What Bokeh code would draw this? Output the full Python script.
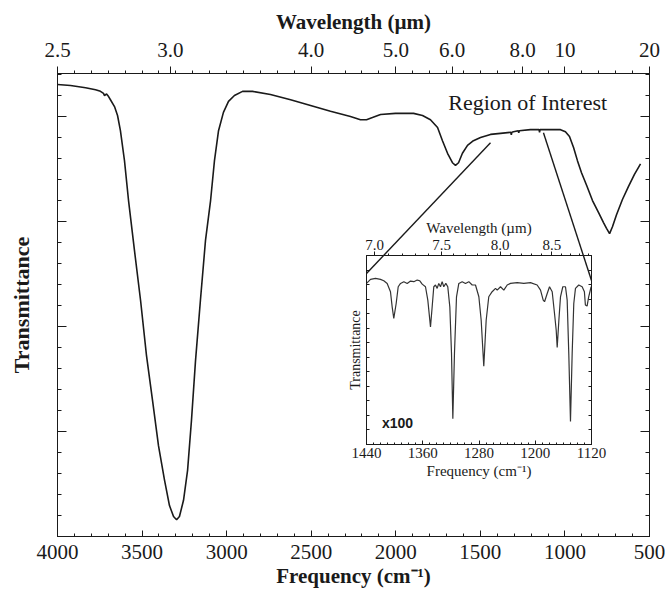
from bokeh.plotting import figure
from bokeh.models import (Range1d, LinearAxis, FixedTicker, CustomJSTickFormatter,
                          Label, ColumnDataSource)
from bokeh.layouts import column
from bokeh.embed import file_html
from bokeh.resources import INLINE

# ---------------- data ----------------
# full IR spectrum: frequency (cm^-1) and transmittance (arbitrary units)
freq_main = [4000, 3923, 3834, 3775, 3746, 3728, 3722, 3710, 3698, 3687, 3663, 3645,
             3628, 3604, 3580, 3545, 3509, 3474, 3438, 3403, 3367, 3338, 3314, 3296,
             3279, 3255, 3231, 3208, 3184, 3155, 3125, 3095, 3072, 3048, 3019, 2989,
             2954, 2906, 2847, 2741, 2622, 2504, 2386, 2268, 2209, 2173, 2138, 2090,
             2002, 1895, 1842, 1795, 1753, 1724, 1694, 1665, 1647, 1629, 1606, 1576,
             1541, 1499, 1440, 1381, 1320, 1317, 1314, 1304, 1276, 1273, 1270, 1204,
             1153, 1150, 1147, 1103, 1026, 997, 973, 949, 926, 902, 872, 837, 801,
             772, 754, 736, 719, 695, 660, 624, 589, 553]
trans_main = [86.1, 85.9, 85.5, 85.1, 84.8, 84.4, 84.0, 84.3, 83.8, 83.2, 81.9, 80.2,
              77.3, 71.6, 64.0, 54.5, 45.0, 34.5, 25.9, 17.3, 10.7, 5.9, 3.8, 3.2,
              3.8, 6.9, 12.6, 22.1, 33.5, 45.0, 56.4, 64.0, 71.6, 77.3, 80.8, 82.9,
              84.0, 84.8, 84.8, 84.2, 83.2, 82.1, 81.0, 80.0, 79.4, 79.4, 79.8, 80.4,
              80.6, 80.6, 80.2, 79.4, 77.9, 75.4, 73.0, 71.2, 70.7, 71.2, 73.0, 74.5,
              75.4, 76.0, 76.6, 76.8, 77.0, 76.5, 77.0, 77.1, 77.3, 76.9, 77.3, 77.5,
              77.5, 77.0, 77.5, 77.5, 77.5, 77.1, 76.2, 74.1, 71.6, 69.3, 66.9, 64.0,
              61.7, 59.8, 58.7, 57.7, 59.0, 61.3, 64.2, 66.7, 69.0, 71.0]

# region of interest, expanded x100
freq_roi = [1440.0, 1434.3, 1427.2, 1420.1, 1415.4, 1410.6, 1405.9, 1403.5, 1401.2, 1397.8,
            1394.9, 1391.6, 1386.9, 1382.1, 1377.4, 1372.7, 1367.9, 1364.2, 1360.8, 1356.1,
            1352.8, 1349.0, 1346.6, 1344.3, 1341.9, 1339.5, 1337.2, 1334.8, 1332.4, 1330.1,
            1327.2, 1324.4, 1321.5, 1319.1, 1317.2, 1314.9, 1312.0, 1308.7, 1303.9, 1299.2,
            1294.5, 1289.7, 1285.0, 1280.2, 1276.9, 1273.2, 1269.8, 1266.1, 1261.3, 1256.5,
            1254.1, 1249.4, 1244.7, 1239.9, 1235.2, 1225.7, 1216.2, 1206.8, 1197.3, 1192.5,
            1188.7, 1186.8, 1183.0, 1179.7, 1175.9, 1172.6, 1170.2, 1168.8, 1166.4, 1164.1,
            1160.8, 1157.0, 1154.6, 1152.3, 1149.9, 1147.5, 1145.2, 1142.8, 1138.1, 1133.3,
            1130.1, 1128.7, 1126.3, 1124.0, 1120.5]
trans_roi = [11.08, 11.36, 11.43, 11.36, 11.26, 11.08, 10.51, 9.47, 8.67, 9.70,
             10.85, 11.08, 11.20, 11.08, 11.24, 11.20, 11.31, 11.26, 11.03, 10.85,
             9.93, 8.09, 9.47, 10.85, 10.97, 10.74, 11.08, 10.85, 11.20, 10.85,
             11.08, 10.85, 9.47, 6.25, 1.77, 6.25, 10.16, 11.08, 11.20, 11.08,
             11.20, 10.97, 10.97, 10.16, 8.55, 5.38, 8.55, 10.16, 10.51, 10.74,
             10.62, 10.85, 10.62, 10.97, 11.08, 11.13, 11.08, 11.13, 10.97, 10.62,
             9.93, 9.82, 10.39, 10.85, 10.51, 9.01, 7.86, 6.67, 8.55, 10.16,
             10.85, 10.85, 9.93, 6.25, 1.59, 6.25, 9.70, 10.74, 10.97, 10.85,
             10.51, 9.59, 9.52, 10.16, 10.85]

freq_ticks = [4000, 3500, 3000, 2500, 2000, 1500, 1000, 500]
wavelength_ticks = [2.5, 3.0, 4.0, 5.0, 6.0, 8.0, 10, 20]
roi_freq_ticks = [1440, 1360, 1280, 1200, 1120]
roi_wavelength_ticks = [7.0, 7.5, 8.0, 8.5]
roi_wavelength_minor = [7.0, 7.1, 7.2, 7.3, 7.4, 7.5, 7.6, 7.7, 7.8, 7.9,
                        8.0, 8.1, 8.2, 8.3, 8.4, 8.5, 8.6, 8.7, 8.8, 8.9]

# leader lines: main-spectrum anchors and inset anchors (frequency, transmittance)
lead_main_freq = [1440, 1127]
lead_main_trans = [75.0, 76.9]
lead_inset_freq = [1440, 1120]
lead_inset_trans = [11.76, 11.28]

SERIF = "Liberation Serif"
INK = "#1a1a1a"

# ---------------- geometry ----------------
W, H = 665, 593
ML, MR, MT, MB = 57, 16, 73, 57
X0, X1 = 4000, 500
Y0, Y1 = 0, 88.2
# inset frame position; the column keeps left/right borders equal to the main plot's
IFX, IFY = 366, 255
IFW, IFH = 225, 189
IBT, IBB = 45, 40
IL, IT = IFX - ML, IFY - IBT
IY1 = 13.0


def wl_formatter():
    return CustomJSTickFormatter(code="""
        const w = 1e4 / tick;
        return w >= 9.99 ? w.toFixed(0) : w.toFixed(1);
    """)


def blank_formatter():
    return CustomJSTickFormatter(code="return '';")


def style_axis(ax, size, bold_title, title_size):
    ax.major_label_text_font = SERIF
    ax.major_label_text_font_size = size
    ax.major_label_text_color = INK
    ax.axis_label_text_font = SERIF
    ax.axis_label_text_font_size = title_size
    ax.axis_label_text_font_style = "bold" if bold_title else "normal"
    ax.axis_label_text_color = INK
    ax.axis_line_color = INK
    ax.major_tick_line_color = INK
    ax.minor_tick_line_color = INK


# ---------------- main plot ----------------
p = figure(width=W, height=H, x_range=Range1d(X0, X1), y_range=Range1d(Y0, Y1),
           x_axis_type=None, y_axis_type=None, output_backend="svg",
           toolbar_location=None, min_border_left=ML, min_border_right=MR,
           min_border_top=MT, min_border_bottom=MB)
p.outline_line_color = INK
p.grid.visible = False
p.background_fill_color = "white"
p.border_fill_color = "white"

bottom = LinearAxis(ticker=FixedTicker(ticks=freq_ticks, minor_ticks=list(range(500, 4001, 100))),
                    axis_label="Frequency (cm\u207b\u00b9)")
style_axis(bottom, "21px", True, "21px")
bottom.major_tick_in, bottom.major_tick_out = 6, 0
bottom.minor_tick_in, bottom.minor_tick_out = 3, 0
bottom.major_label_standoff = 8
bottom.axis_label_standoff = 2
p.add_layout(bottom, "below")

top = LinearAxis(ticker=FixedTicker(ticks=[1e4 / w for w in wavelength_ticks],
                                    minor_ticks=list(range(500, 4001, 100))),
                 formatter=wl_formatter(), axis_label="Wavelength (\u00b5m)")
style_axis(top, "21px", True, "21px")
top.major_tick_in, top.major_tick_out = 0, 7
top.minor_tick_in, top.minor_tick_out = 0, 3
top.major_label_standoff = 10
top.axis_label_standoff = 6
p.add_layout(top, "above")

ticks_t = FixedTicker(ticks=[0, 20, 40, 60, 80], minor_ticks=list(range(0, 89, 4)))
left = LinearAxis(ticker=ticks_t, formatter=blank_formatter(), axis_label="Transmittance")
style_axis(left, "10px", True, "22px")
left.major_tick_in, left.major_tick_out = 9, 0
left.minor_tick_in, left.minor_tick_out = 4, 0
left.major_label_standoff = 0
left.axis_label_standoff = 24
p.add_layout(left, "left")

right = LinearAxis(ticker=ticks_t, formatter=blank_formatter())
style_axis(right, "10px", False, "10px")
right.major_tick_in, right.major_tick_out = 9, 0
right.minor_tick_in, right.minor_tick_out = 4, 0
right.major_label_standoff = 0
p.add_layout(right, "right")

p.line(freq_main, trans_main, line_color=INK, line_width=1.6)

p.add_layout(Label(x=1220, y=82.7, text="Region of Interest", text_font=SERIF,
                   text_font_size="22px", text_color=INK, text_align="center",
                   text_baseline="middle"))


# leader lines from the main spectrum to the inset frame
def inset_to_main(f, t):
    px = IFX + (1440 - f) / 320 * IFW
    py = IFY + (IY1 - t) / IY1 * IFH
    fx = X0 - (px - ML) / (W - ML - MR) * (X0 - X1)
    ty = Y1 - (py - MT) / (H - MT - MB) * (Y1 - Y0)
    return fx, ty


ends = [inset_to_main(f, t) for f, t in zip(lead_inset_freq, lead_inset_trans)]
lead = ColumnDataSource(dict(x0=lead_main_freq, y0=lead_main_trans,
                             x1=[e[0] for e in ends], y1=[e[1] for e in ends]))
p.segment("x0", "y0", "x1", "y1", source=lead, line_color=INK, line_width=1.4)

# ---------------- inset ----------------
ins = figure(width=ML + IFW + MR, height=IBT + IFH + IBB,
             x_range=Range1d(1440, 1120), y_range=Range1d(0, IY1),
             x_axis_type=None, y_axis_type=None, output_backend="svg",
             toolbar_location=None, min_border_left=ML, min_border_right=MR,
             min_border_top=IBT, min_border_bottom=IBB,
             margin=(IT - H, 0, 0, IL))
ins.background_fill_alpha = 0
ins.border_fill_alpha = 0
ins.outline_line_color = INK
ins.grid.visible = False

ib = LinearAxis(ticker=FixedTicker(ticks=roi_freq_ticks, minor_ticks=list(range(1120, 1441, 10))),
                axis_label="Frequency (cm\u207b\u00b9)")
style_axis(ib, "15px", False, "15px")
ib.major_tick_in, ib.major_tick_out = 4, 0
ib.minor_tick_in, ib.minor_tick_out = 2, 0
ib.major_label_standoff = 3
ib.axis_label_standoff = 2
ins.add_layout(ib, "below")

it = LinearAxis(ticker=FixedTicker(ticks=[1e4 / w for w in roi_wavelength_ticks],
                                   minor_ticks=[1e4 / w for w in roi_wavelength_minor]),
                formatter=wl_formatter(), axis_label="Wavelength (\u00b5m)")
style_axis(it, "15px", False, "15px")
it.major_tick_in, it.major_tick_out = 0, 4
it.minor_tick_in, it.minor_tick_out = 0, 2
it.major_label_standoff = 2
it.axis_label_standoff = 1
ins.add_layout(it, "above")

iticks = FixedTicker(ticks=list(range(0, 14)), minor_ticks=[])
il = LinearAxis(ticker=iticks, formatter=blank_formatter(), axis_label="Transmittance")
style_axis(il, "10px", False, "14px")
il.major_tick_in, il.major_tick_out = 3, 0
il.major_label_standoff = 0
il.axis_label_standoff = 4
ins.add_layout(il, "left")

ir = LinearAxis(ticker=iticks, formatter=blank_formatter())
style_axis(ir, "10px", False, "10px")
ir.major_tick_in, ir.major_tick_out = 3, 0
ir.major_label_standoff = 0
ins.add_layout(ir, "right")

ins.line(freq_roi, trans_roi, line_color="#333333", line_width=1.2)
ins.add_layout(Label(x=1418, y=1.45, text="x100", text_font="Liberation Sans",
                     text_font_style="bold", text_font_size="14px", text_color=INK,
                     text_baseline="middle"))

layout = column(p, ins)
open("out.html", "w").write(file_html(layout, INLINE))
